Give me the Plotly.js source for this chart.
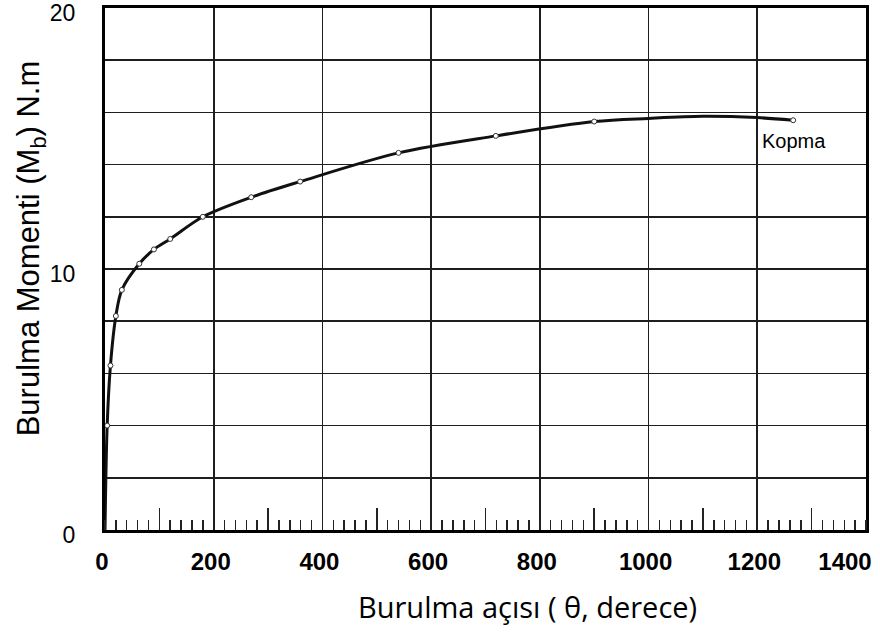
<!DOCTYPE html>
<html>
<head>
<meta charset="utf-8">
<script src="https://cdn.plot.ly/plotly-3.0.1.min.js"></script>
<style>html,body{margin:0;padding:0;background:#fff;}#chart{width:880px;height:634px;}</style>
</head>
<body>
<div id="chart"></div>
<script>
// Curve (smooth line)
const curveAngle  = [0, 4, 10, 20, 31, 63, 90, 120, 180, 269, 359, 540, 719, 900, 1000, 1100, 1200, 1266];
const curveMoment = [0, 4.0, 6.3, 8.2, 9.2, 10.2, 10.75, 11.15, 12.0, 12.75, 13.35, 14.45, 15.1, 15.65, 15.77, 15.85, 15.8, 15.7];
// Measured points (small open circles)
const pointAngle  = [4, 10, 20, 31, 63, 90, 120, 180, 269, 359, 540, 719, 900];
const pointMoment = [4.0, 6.3, 8.2, 9.2, 10.2, 10.75, 11.15, 12.0, 12.75, 13.35, 14.45, 15.1, 15.65];
// Rupture point ("Kopma")
const breakAngle  = [1266];
const breakMoment = [15.7];
const breakLabel  = "Kopma";
const breakLabelAngle = 1205, breakLabelMoment = 14.9;
// Axis ticks and labels
const xTickVals   = [0, 200, 400, 600, 800, 1000, 1200];
const xTickLabels = ["0", "200", "400", "600", "800", "1000", "1200"];
const xEndVals    = [1400];
const xEndLabels  = ["1400"];
const xExtraGrid  = [70];
const xTallTicks  = [100, 300, 500, 700, 900, 1100, 1300];
const yTickVals   = [0, 10, 20];
const yTickLabels = ["0", "10", "20"];
const xTitle = "Burulma açısı ( θ, derece)";
const yTitle = "Burulma Momenti (M<sub>b</sub>) N.m";

const pointMarker = {symbol: 'circle', size: 5, color: '#fff', line: {color: '#333', width: 1}};
const traces = [
  {
    x: curveAngle, y: curveMoment, mode: 'lines', type: 'scatter',
    line: {color: '#111', width: 3, shape: 'spline', smoothing: 0.9},
    hoverinfo: 'skip', showlegend: false
  },
  {
    x: pointAngle, y: pointMoment, mode: 'markers', type: 'scatter', xaxis: 'x2',
    marker: pointMarker, hoverinfo: 'skip', showlegend: false
  },
  {
    x: breakAngle, y: breakMoment, mode: 'markers', type: 'scatter', xaxis: 'x3',
    marker: pointMarker, hoverinfo: 'skip', showlegend: false
  }
];

const gridColor = '#1e1e1e';
const tickFontX = {family: 'Liberation Sans, Arial, sans-serif', size: 24, color: '#000', weight: 'bold'};
const layout = {
  width: 880, height: 634,
  margin: {l: 105, r: 14, t: 8, b: 104},
  paper_bgcolor: '#fff', plot_bgcolor: '#fff',
  showlegend: false,
  xaxis: {
    range: [0, 1400], tickmode: 'array', tickvals: xTickVals, ticktext: xTickLabels,
    showgrid: true, gridcolor: gridColor, gridwidth: 1.6,
    zeroline: false, showline: true, linecolor: '#000', linewidth: 3, mirror: true,
    ticks: '', ticklabelstandoff: 8, ticklabelshift: -3,
    tickfont: tickFontX,
    minor: {ticks: 'inside', tickmode: 'linear', tick0: 0, dtick: 20, ticklen: 10, tickwidth: 1.5, tickcolor: '#222', showgrid: false}
  },
  xaxis2: {
    range: [0, 1400], overlaying: 'x', anchor: 'y', side: 'bottom',
    tickmode: 'array', tickvals: xTallTicks, ticks: 'inside', ticklen: 22, tickwidth: 1.5, tickcolor: '#222',
    showticklabels: false, showgrid: false, zeroline: false, showline: false
  },
  xaxis3: {
    range: [0, 1400], overlaying: 'x', anchor: 'y', side: 'bottom',
    tickmode: 'array', tickvals: xEndVals, ticktext: xEndLabels, ticks: '',
    ticklabelstandoff: 15, ticklabelshift: -21, ticklabeloverflow: 'allow',
    tickfont: tickFontX, showgrid: false, zeroline: false, showline: false
  },
  xaxis4: {
    range: [0, 1400], overlaying: 'x', anchor: 'y', side: 'bottom',
    tickmode: 'array', tickvals: xExtraGrid, ticks: '', showticklabels: false,
    showgrid: true, gridcolor: gridColor, gridwidth: 1.6, zeroline: false, showline: false
  },
  yaxis: {
    range: [0, 20], tickmode: 'array', tickvals: yTickVals, ticktext: yTickLabels,
    showgrid: true, gridcolor: gridColor, gridwidth: 1.6,
    zeroline: false, showline: true, linecolor: '#000', linewidth: 3, mirror: true,
    ticks: '', ticklabelstandoff: 22, ticklabelshift: 5,
    tickfont: {family: 'Liberation Sans, Arial, sans-serif', size: 23, color: '#000'},
    minor: {tickmode: 'linear', tick0: 0, dtick: 2, ticks: '', showgrid: true, gridcolor: gridColor, gridwidth: 1.6}
  },
  annotations: [
    {x: breakLabelAngle, y: breakLabelMoment, xref: 'x', yref: 'y', text: breakLabel, showarrow: false,
     xanchor: 'left', yanchor: 'middle', font: {family: 'Liberation Sans, Arial, sans-serif', size: 20, color: '#000'}},
    {x: 0.555, y: -0.1475, xref: 'paper', yref: 'paper', text: xTitle, showarrow: false,
     xanchor: 'center', yanchor: 'middle', font: {family: 'Open Sans, Noto Sans, sans-serif', size: 29, color: '#000'}},
    {x: -0.097, y: 0.54, xref: 'paper', yref: 'paper', text: yTitle, showarrow: false, textangle: -90,
     xanchor: 'center', yanchor: 'middle', font: {family: 'Liberation Sans, Arial, sans-serif', size: 31, color: '#000'}}
  ]
};

Plotly.newPlot('chart', traces, layout, {displayModeBar: false, staticPlot: true});
</script>
</body>
</html>
